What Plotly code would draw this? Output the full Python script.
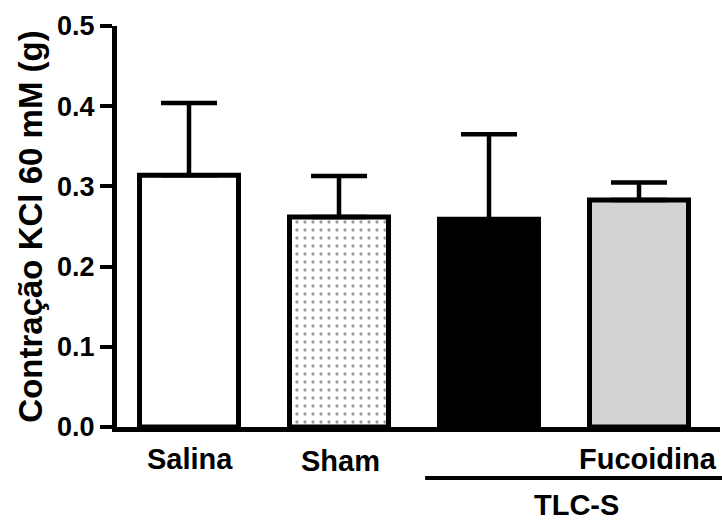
import plotly.graph_objects as go

categories = ["Salina", "Sham", "TLC-S", "Fucoidina"]
means = [0.314, 0.262, 0.259, 0.283]
sem = [0.090, 0.051, 0.106, 0.022]
tick_labels = ["Salina", "Sham", "", "Fucoidina"]
y_ticks = [0.0, 0.1, 0.2, 0.3, 0.4, 0.5]
group_label = "TLC-S"

fills = ["white", "white", "black", "#d3d3d3"]
patterns = ["", ".", "", ""]

FONT = "Liberation Sans, Arial, Helvetica, sans-serif"

fig = go.Figure()
fig.add_trace(go.Bar(
    x=list(range(len(categories))),
    y=means,
    width=0.66,
    marker=dict(
        color=fills,
        line=dict(color="black", width=5),
        pattern=dict(shape=patterns, fgcolor="black", bgcolor="white",
                     size=8, solidity=0.14, fillmode="overlay"),
    ),
    error_y=dict(type="data", symmetric=False, array=sem,
                 arrayminus=[0] * len(sem), color="black",
                 thickness=4.5, width=28),
    showlegend=False,
))

fig.update_layout(
    width=722, height=520,
    margin=dict(l=117, r=2, t=26, b=93),
    paper_bgcolor="white", plot_bgcolor="white",
    font=dict(family=FONT, color="black", size=27, weight="bold"),
    xaxis=dict(range=[-0.48, 3.54], showline=True, linewidth=5,
               linecolor="black", showticklabels=False, ticks="",
               showgrid=False, zeroline=False, fixedrange=True),
    yaxis=dict(range=[0, 0.5], tickvals=y_ticks, tickformat=".1f",
               showline=True, linewidth=5, linecolor="black",
               ticks="outside", ticklen=12, tickwidth=4, tickcolor="black",
               showgrid=False, zeroline=False,
               tickfont=dict(size=27, family=FONT, weight="bold"),
               title=dict(text="Contração KCl 60 mM (g)", standoff=6,
                          font=dict(size=33, family=FONT, weight="bold"))),
)

xshift = [1, 1, 0, 9]
yshift = [-31.5, -34, 0, -31.5]
for i, lab in enumerate(tick_labels):
    if lab:
        fig.add_annotation(x=i, y=0, xref="x", yref="y", text=lab,
                           showarrow=False, xanchor="center", yanchor="middle",
                           yshift=yshift[i], xshift=xshift[i],
                           font=dict(size=29, family=FONT, weight="bold"))

fig.add_shape(type="line", xref="paper", yref="paper",
              x0=0.511, x1=1.01, y0=-0.127, y1=-0.127,
              line=dict(color="black", width=4))
fig.add_annotation(x=(576 - 117) / 603, y=(427 - 505) / 401,
                   xref="paper", yref="paper",
                   text=group_label, showarrow=False,
                   xanchor="center", yanchor="middle",
                   font=dict(size=29, family=FONT, weight="bold"))

fig.write_html("out.html")
